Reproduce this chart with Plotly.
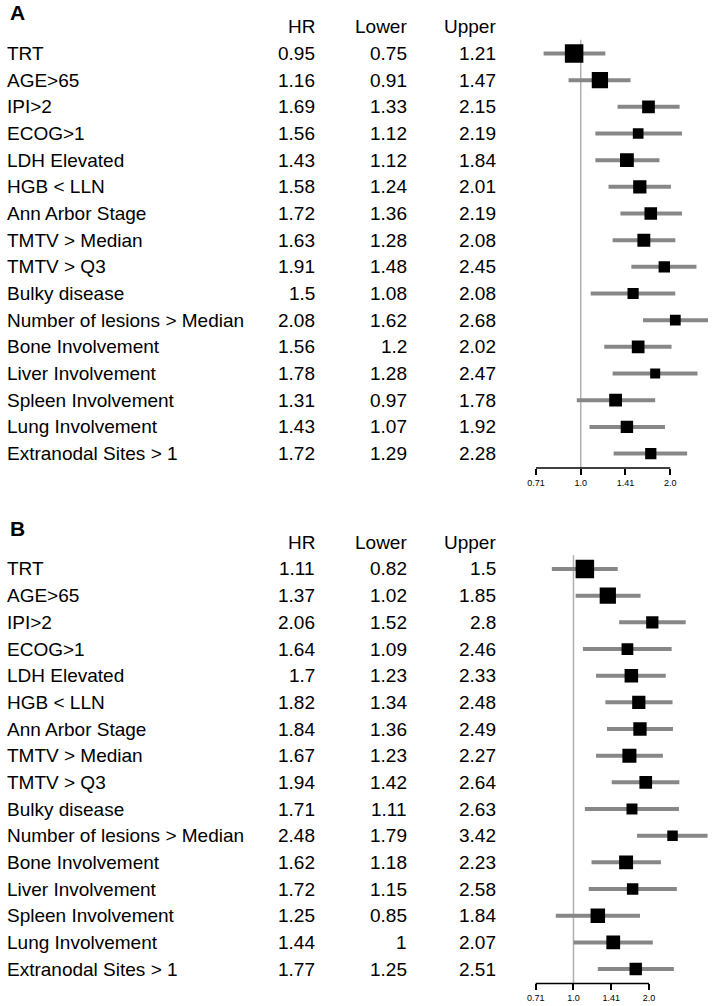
import math
import plotly.graph_objects as go

# ---------------- data ----------------
labels = ["TRT", "AGE>65", "IPI>2", "ECOG>1", "LDH Elevated", "HGB < LLN",
          "Ann Arbor Stage", "TMTV > Median", "TMTV > Q3", "Bulky disease",
          "Number of lesions > Median", "Bone Involvement", "Liver Involvement",
          "Spleen Involvement", "Lung Involvement", "Extranodal Sites > 1"]

hr_a    = [0.95, 1.16, 1.69, 1.56, 1.43, 1.58, 1.72, 1.63, 1.91, 1.5, 2.08, 1.56, 1.78, 1.31, 1.43, 1.72]
lower_a = [0.75, 0.91, 1.33, 1.12, 1.12, 1.24, 1.36, 1.28, 1.48, 1.08, 1.62, 1.2, 1.28, 0.97, 1.07, 1.29]
upper_a = [1.21, 1.47, 2.15, 2.19, 1.84, 2.01, 2.19, 2.08, 2.45, 2.08, 2.68, 2.02, 2.47, 1.78, 1.92, 2.28]

hr_b    = [1.11, 1.37, 2.06, 1.64, 1.7, 1.82, 1.84, 1.67, 1.94, 1.71, 2.48, 1.62, 1.72, 1.25, 1.44, 1.77]
lower_b = [0.82, 1.02, 1.52, 1.09, 1.23, 1.34, 1.36, 1.23, 1.42, 1.11, 1.79, 1.18, 1.15, 0.85, 1, 1.25]
upper_b = [1.5, 1.85, 2.8, 2.46, 2.33, 2.48, 2.49, 2.27, 2.64, 2.63, 3.42, 2.23, 2.58, 1.84, 2.07, 2.51]

col_headers = ["HR", "Lower", "Upper"]
tick_vals = [0.7071, 1.0, 1.4142, 2.0]
tick_text = ["0.71", "1.0", "1.41", "2.0"]
panel_names = ["A", "B"]

# ---------------- layout constants ----------------
W, H = 712, 1006
FONT = "Liberation Sans, Arial, Helvetica, sans-serif"
FS = 19
n = len(labels)
SP = 26.67                      # px per row
ROW_TOP = -1.6                  # top of y range (header row at -1)
REF_TOP = -0.52                 # top of reference line
ROW_BOT = n - 1 + 0.54          # bottom of y range (axis line)

# per panel: y px of first row, x px of HR=1, px per log10 unit
geo = [dict(row0=53.5, x1=580.0, ppl=299.0),
       dict(row0=569.0, x1=572.7, ppl=252.5)]
forest_left = 530

col_right_px = [315, 407, 497]
label_left_px = 1

fig = go.Figure()


def fmt(v):
    return f"{v:g}"


panels = [(hr_a, lower_a, upper_a), (hr_b, lower_b, upper_b)]
for p, (hr, lo, up) in enumerate(panels):
    g = geo[p]
    xa = "xaxis" if p == 0 else "xaxis2"
    ya = "yaxis" if p == 0 else "yaxis2"
    xr = "x" if p == 0 else "x2"
    yr = "y" if p == 0 else "y2"

    # CI lines
    xs, ys = [], []
    for i in range(n):
        xs += [lo[i], up[i], None]
        ys += [i, i, None]
    fig.add_trace(go.Scatter(x=xs, y=ys, mode="lines", xaxis=xr, yaxis=yr,
                             line=dict(color="#878787", width=4),
                             hoverinfo="skip", showlegend=False))
    # boxes sized by precision
    widths = [u - l for l, u in zip(lo, up)]
    wmin = min(widths)
    sizes = [18.5 * (wmin / w) ** 0.65 for w in widths]
    fig.add_trace(go.Scatter(x=hr, y=list(range(n)), mode="markers", xaxis=xr, yaxis=yr,
                             marker=dict(symbol="square", color="#000000", size=sizes,
                                         opacity=1, line=dict(width=0)),
                             opacity=1, showlegend=False))

    left_log = -(g["x1"] - forest_left) / g["ppl"]
    right_log = left_log + (W - forest_left) / g["ppl"]
    top_px = g["row0"] + ROW_TOP * SP
    bot_px = g["row0"] + ROW_BOT * SP
    dom_y = [1 - bot_px / H, 1 - top_px / H]

    fig.layout[xa] = dict(type="log", range=[left_log, right_log],
                          domain=[forest_left / W, 1], anchor=yr,
                          showgrid=False, zeroline=False, showline=False,
                          ticks="outside", ticklen=6, tickwidth=1.5, tickcolor="black",
                          tickvals=tick_vals, ticktext=tick_text,
                          tickfont=dict(family=FONT, size=9, color="black"))
    fig.layout[ya] = dict(range=[ROW_BOT, ROW_TOP], domain=dom_y, anchor=xr,
                          visible=False, showgrid=False, zeroline=False)

    # reference line at HR = 1
    fig.add_shape(type="line", xref=xr, yref=yr, x0=1, x1=1, y0=REF_TOP, y1=ROW_BOT,
                  line=dict(color="#b0b0b0", width=1.5), layer="below")
    # axis line from first to last tick
    fig.add_shape(type="line", xref=xr, yref=f"{yr} domain", x0=tick_vals[0], x1=tick_vals[-1],
                  y0=0, y1=0, line=dict(color="black", width=1.5))

    # table text
    for i in range(n):
        fig.add_annotation(x=label_left_px / W, xref="paper", y=i, yref=yr,
                           text=labels[i], showarrow=False, xanchor="left", yanchor="middle",
                           font=dict(family=FONT, size=FS, color="black"))
        for c, vals in enumerate((hr, lo, up)):
            fig.add_annotation(x=col_right_px[c] / W, xref="paper", y=i, yref=yr,
                               text=fmt(vals[i]), showarrow=False, xanchor="right",
                               yanchor="middle",
                               font=dict(family=FONT, size=FS, color="black"))
    for c, h in enumerate(col_headers):
        fig.add_annotation(x=col_right_px[c] / W, xref="paper", y=-1, yref=yr,
                           text=h, showarrow=False, xanchor="right", yanchor="middle",
                           font=dict(family=FONT, size=FS, color="black"))
    # panel label
    fig.add_annotation(x=4 / W, xref="paper", y=1 - (g["row0"] - 41) / H, yref="paper",
                       text=f"<b>{panel_names[p]}</b>", showarrow=False,
                       xanchor="left", yanchor="middle",
                       font=dict(family=FONT, size=21, color="black"))

fig.update_layout(width=W, height=H, margin=dict(l=0, r=0, t=0, b=0),
                  paper_bgcolor="white", plot_bgcolor="white", showlegend=False)

fig.write_html("out.html", config={"displayModeBar": False},
               post_script="document.body.style.margin='0';document.body.style.padding='0';")
